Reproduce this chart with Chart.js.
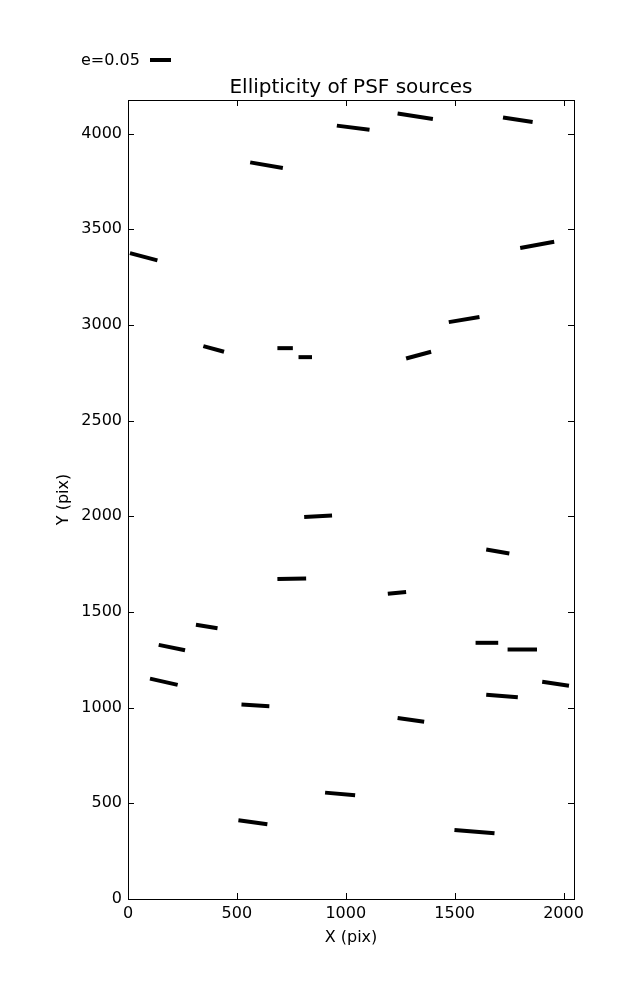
<!DOCTYPE html>
<html>
<head>
<meta charset="utf-8">
<script src="https://cdn.jsdelivr.net/npm/chart.js@4/dist/chart.umd.min.js"></script>
<style>
  body { margin: 0; background: #fff; }
  canvas { display: block; }
</style>
</head>
<body>
<canvas id="c" width="637" height="1000"></canvas>
<script>
// whisker end points, in detector pixels
const xStart = [9, 561, 959, 1238, 1722, 1801, 346, 686, 783, 1277, 1473, 809, 1645, 686, 1193, 312, 141, 1596, 1743, 101, 1902, 1645, 521, 1238, 905, 507, 1499];
const yStart = [3376, 3850, 4042, 4105, 4085, 3402, 2890, 2879, 2832, 2825, 3015, 1997, 1827, 1672, 1595, 1433, 1328, 1339, 1304, 1152, 1135, 1068, 1016, 946, 556, 412, 361];
const xEnd = [135, 711, 1109, 1400, 1858, 1957, 441, 757, 845, 1392, 1614, 937, 1751, 818, 1277, 411, 262, 1700, 1878, 228, 2025, 1790, 649, 1360, 1043, 640, 1683];
const yEnd = [3338, 3821, 4021, 4077, 4061, 3435, 2860, 2879, 2832, 2860, 3042, 2004, 1806, 1675, 1604, 1415, 1300, 1339, 1304, 1119, 1115, 1055, 1008, 926, 542, 391, 344];

const xTickVals = [0, 500, 1000, 1500, 2000];
const yTickVals = [0, 500, 1000, 1500, 2000, 2500, 3000, 3500, 4000];

const xMax = 2048;
const yMax = 4176;
const keyLabel = 'e=0.05';
const FONT = 'DejaVu Sans';

Chart.defaults.color = '#000';
Chart.defaults.font.family = FONT;

const datasets = xStart.map((x0, i) => ({
  data: [{ x: x0, y: yStart[i] }, { x: xEnd[i], y: yEnd[i] }],
  showLine: true,
  borderColor: '#000',
  borderWidth: 4,
  borderCapStyle: 'butt',
  pointRadius: 0,
  fill: false,
}));

// matplotlib-ish frame: box round the axes, ticks pointing inward on all sides
const framePlugin = {
  id: 'frame',
  afterDraw(chart) {
    const { ctx, chartArea: a, scales } = chart;
    const len = 6;
    ctx.save();
    ctx.strokeStyle = '#000';
    ctx.lineWidth = 1;
    ctx.strokeRect(a.left + 0.5, a.top + 0.5, a.right - a.left, a.bottom - a.top);
    ctx.beginPath();
    scales.x.ticks.forEach(t => {
      const px = Math.round(scales.x.getPixelForValue(t.value)) + 0.5;
      ctx.moveTo(px, a.bottom); ctx.lineTo(px, a.bottom - len);
      ctx.moveTo(px, a.top); ctx.lineTo(px, a.top + len);
    });
    scales.y.ticks.forEach(t => {
      const py = Math.round(scales.y.getPixelForValue(t.value)) + 0.5;
      ctx.moveTo(a.left, py); ctx.lineTo(a.left + len, py);
      ctx.moveTo(a.right, py); ctx.lineTo(a.right - len, py);
    });
    ctx.stroke();

    // quiver key
    ctx.font = '16px "' + FONT + '"';
    ctx.fillStyle = '#000';
    ctx.textBaseline = 'middle';
    ctx.textAlign = 'left';
    ctx.fillText(keyLabel, 81, 61);
    ctx.lineWidth = 4;
    ctx.beginPath();
    ctx.moveTo(150, 60);
    ctx.lineTo(171, 60);
    ctx.stroke();
    ctx.restore();
  }
};

new Chart(document.getElementById('c'), {
  type: 'scatter',
  data: { datasets },
  options: {
    responsive: false,
    animation: false,
    layout: { padding: { left: 0, right: 63, top: 0, bottom: 0 } },
    plugins: {
      legend: { display: false },
      tooltip: { enabled: false },
      title: {
        display: true,
        fullSize: false,
        text: 'Ellipticity of PSF sources',
        font: { size: 20, weight: 'normal' },
        padding: { top: 76, bottom: 0 },
      },
    },
    scales: {
      x: {
        type: 'linear',
        min: 0,
        max: xMax,
        grid: { display: false, drawTicks: false },
        border: { display: false },
        ticks: { padding: 5, font: { size: 16 }, maxRotation: 0, autoSkip: false, callback: v => String(v) },
        afterBuildTicks: s => { s.ticks = xTickVals.map(v => ({ value: v })); },
        title: { display: true, text: 'X (pix)', font: { size: 16 }, padding: { top: 0, bottom: 53 } },
        afterFit: s => { s.height = 101; },
      },
      y: {
        type: 'linear',
        min: 0,
        max: yMax,
        grid: { display: false, drawTicks: false },
        border: { display: false },
        ticks: { padding: 6, font: { size: 16 }, autoSkip: false, callback: v => String(v) },
        afterBuildTicks: s => { s.ticks = yTickVals.map(v => ({ value: v })); },
        title: { display: true, text: 'Y (pix)', font: { size: 16 }, padding: { top: 54, bottom: 0 } },
        afterFit: s => { s.width = 128; },
      },
    },
  },
  plugins: [framePlugin],
});
</script>
</body>
</html>
